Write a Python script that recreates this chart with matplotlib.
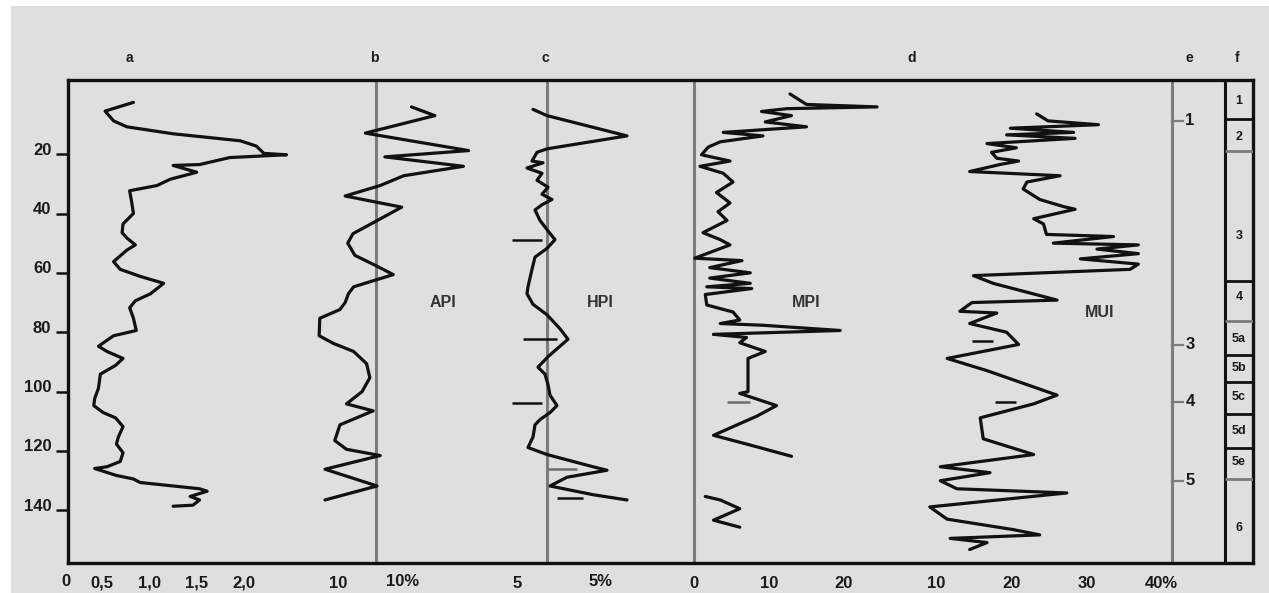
import numpy as np
import matplotlib
matplotlib.use("Agg")
import matplotlib.pyplot as plt
from matplotlib.patches import Rectangle
from matplotlib.transforms import ScaledTranslation

plt.rcParams['font.family'] = ['Liberation Sans', 'DejaVu Sans']
plt.rcParams['font.weight'] = 'bold'

# ------------------------------------------------------------------ data
depth_ticks = [20, 40, 60, 80, 100, 120, 140]

# a: grain-size curve
a_depth = [2.54, 5.48, 8.78, 10.78, 13.13, 15.49, 17.26, 19.73, 20.20, 21.14,
           23.50, 23.80, 26.09, 28.44, 30.56, 32.33, 35.86, 39.98, 43.51, 46.46,
           48.23, 50.58, 52.35, 56.23, 58.82, 61.18, 63.53, 67.06, 69.42, 71.78,
           75.31, 79.43, 81.20, 84.73, 86.50, 88.85, 91.21, 94.15, 98.86, 102.39,
           104.75, 107.10, 108.87, 111.82, 115.35, 117.70, 120.65, 123.59, 125.36,
           125.95, 128.30, 129.48, 130.66, 132.78, 133.60, 135.37, 136.55, 138.31,
           138.67]
a_val = [0.83, 0.53, 0.62, 0.76, 1.25, 1.96, 2.13, 2.21, 2.45, 1.85,
         1.53, 1.25, 1.50, 1.22, 1.08, 0.79, 0.81, 0.83, 0.72, 0.71,
         0.76, 0.85, 0.76, 0.62, 0.69, 0.90, 1.15, 1.01, 0.85, 0.79,
         0.83, 0.86, 0.62, 0.46, 0.55, 0.72, 0.64, 0.48, 0.46, 0.42,
         0.41, 0.51, 0.64, 0.72, 0.67, 0.65, 0.72, 0.69, 0.55,
         0.42, 0.65, 0.83, 0.90, 1.53, 1.61, 1.43, 1.53, 1.46,
         1.25]

# b: API (%)
api_depth = [4.07, 7.01, 12.90, 18.79, 20.91, 24.09, 27.27, 30.56, 34.10, 37.86,
             46.81, 49.99, 54.11, 57.65, 60.59, 64.71, 67.07, 70.01, 72.37, 75.31,
             81.20, 83.79, 86.50, 90.62, 95.33, 100.04, 104.16, 106.52, 111.23,
             116.53, 119.47, 121.59, 126.19, 131.84, 136.55]
api_val = [21.3, 24.9, 14.2, 30.1, 17.2, 29.3, 20.1, 16.5, 11.1, 19.8,
           12.3, 11.5, 12.6, 15.9, 18.5, 12.4, 11.6, 11.1, 10.3, 7.2,
           7.1, 9.3, 12.4, 14.4, 14.9, 13.7, 11.3, 15.4, 10.3,
           9.5, 11.3, 16.5, 8.0, 16.0, 8.0]

# c: HPI (%)
hpi_depth = [4.89, 7.01, 13.84, 18.20, 19.38, 22.32, 22.91, 24.67, 26.44, 28.80,
             31.15, 33.51, 35.27, 37.04, 38.81, 42.34, 45.87, 48.82, 51.76, 54.70,
             58.82, 64.71, 67.07, 70.60, 74.13, 78.84, 82.38, 84.73, 88.26, 91.80,
             94.15, 97.69, 101.22, 104.75, 107.10, 109.46, 111.23, 115.35, 118.88,
             121.24, 125.36, 126.54, 128.89, 131.84, 134.78, 136.55]
hpi_val = [6.6, 8.0, 16.0, 8.0, 7.0, 6.5, 7.6, 6.0, 7.5, 7.0,
           8.1, 7.5, 8.5, 7.5, 6.8, 7.3, 8.1, 8.8, 8.0, 6.8,
           6.5, 6.1, 6.0, 6.6, 8.0, 9.3, 10.1, 9.3, 8.1, 7.1,
           7.8, 8.1, 8.3, 9.0, 8.3, 7.3, 6.8, 6.6, 6.1,
           8.0, 12.6, 14.0, 10.0, 8.3, 12.6, 16.0]
hpi_mark_depth = [49.05, 82.14, 103.93, 135.96]
hpi_mark_from = [4.5, 5.6, 4.5, 9.0]
hpi_mark_to = [7.5, 9.0, 7.5, 11.6]
hpi_faint_depth = [125.95]
hpi_faint_from = [8.1]
hpi_faint_to = [11.0]

# d: MPI (%), two logged intervals
mpi_depth = [-0.29, 3.24, 4.07, 4.66, 5.60, 7.01, 9.13, 10.78, 12.66, 13.84,
             15.84, 17.61, 20.20, 22.32, 24.09, 26.44, 29.39, 32.92, 36.45, 39.39,
             42.34, 46.46, 48.82, 50.58, 55.06, 55.88, 58.24, 60.00, 61.77, 63.53,
             64.71, 65.30, 67.30, 70.84, 73.19, 75.90, 77.08, 77.67, 79.43, 80.73,
             81.79, 83.55, 86.50, 88.85, 95.33, 100.04, 100.63, 104.75, 108.28,
             114.76, 117.70, 121.83, np.nan,
             135.37, 136.55, 139.50, 143.37, 145.73]
mpi_val = [12.8, 15.0, 24.4, 12.4, 9.0, 13.0, 9.5, 15.0, 3.9, 9.2,
           3.5, 1.9, 1.0, 4.8, 0.8, 3.9, 5.2, 3.0, 4.8, 3.2,
           4.4, 1.2, 3.5, 4.8, 0.1, 6.4, 2.1, 7.5, 2.1, 7.5,
           1.7, 7.7, 1.5, 1.7, 5.2, 6.1, 3.5, 9.2, 19.5, 2.6,
           7.0, 6.1, 9.5, 7.2, 7.2, 7.2, 6.1, 11.0, 8.4,
           2.6, 7.0, 13.0, np.nan,
           1.5, 3.5, 6.1, 2.6, 6.1]
mpi_mark_depth = [80.7]
mpi_mark_from = [2.4]
mpi_mark_to = [5.9]
mpi_faint_depth = [103.6]
mpi_faint_from = [4.4]
mpi_faint_to = [7.5]

# d: MUI (%)
mui_depth = [6.42, 8.78, 10.07, 11.25, 12.66, 13.49, 14.67, 16.43, 17.85, 19.38,
             21.38, 22.32, 23.50, 25.85, 27.27, 29.39, 31.74, 35.27, 37.63, 38.57,
             41.75, 43.52, 47.05, 47.76, 49.99, 50.58, 51.99, 53.53, 55.29, 57.06,
             58.82, 60.94, 63.53, 69.19, 70.01, 72.96, 73.54, 77.08, 80.02, 84.14,
             88.85, 92.97, 101.22, 104.16, 108.87, 115.94, 121.24, 125.36, 127.36,
             130.07, 132.78, 134.19, 138.90, 143.02, 146.55, 148.32, 149.50,
             150.91, 153.26]
mui_val = [23.4, 24.9, 31.6, 19.9, 28.3, 19.4, 28.5, 16.8, 20.7, 17.4,
           18.1, 21.0, 18.5, 14.5, 26.5, 22.1, 21.6, 23.8, 26.9, 28.5,
           23.0, 24.3, 24.7, 33.6, 25.6, 36.9, 31.4, 36.9, 29.2, 36.9,
           35.8, 15.0, 17.6, 26.1, 14.8, 13.2, 18.1, 14.5, 19.4, 21.0,
           11.5, 16.8, 26.1, 23.0, 15.9, 16.3, 23.0, 10.6, 17.2,
           10.6, 12.8, 27.4, 9.2, 11.5, 20.3, 23.8, 11.9,
           16.8, 14.5]
mui_mark_depth = [83.0, 103.6]
mui_mark_from = [14.8, 17.9]
mui_mark_to = [17.6, 20.7]

# e: dated levels
e_depth = [8.8, 84.2, 103.4, 130.1]
e_labels = ["1", "3", "4", "5"]

# f: lithological units
f_bounds = [8.2, 18.8, 62.7, 76.1, 87.6, 96.7, 107.6, 119.0, 129.5]
f_bound_faint = [False, True, False, True, False, False, False, False, True]
f_labels = ["1", "2", "3", "4", "5a", "5b", "5c", "5d", "5e", "6"]
f_label_depth = [2.1, 14.3, 47.7, 68.3, 82.2, 92.2, 101.7, 113.4, 123.9, 146.1]

a_ticks = [0.5, 1.0, 1.5, 2.0]
a_ticklabels = ["0,5", "1,0", "1,5", "2,0"]
mpi_ticks = [0, 10, 20]
mpi_ticklabels = ["0", "10", "20"]
mui_ticks = [10, 20, 30, 40]
mui_ticklabels = ["10", "20", "30", "40%"]
api_ticks = [10]
api_ticklabels = ["10"]
hpi_ticks = [5]
hpi_ticklabels = ["5"]

# ------------------------------------------------------------------ layout (pixels)
W, H, DPI = 1269, 593, 100
FR_L, FR_R, FR_T, FR_B = 68, 1253, 80, 563
DEPTH_LIM = (157.8, -5.0)
LINE_B, LINE_C, LINE_D, LINE_E, F_L = 376, 547, 694, 1172, 1225
BG = "#dfdfdf"
GRID_GREY = "#7c7c7c"
INK = "#111111"

# each curve scale: (pixel of value 0, pixels per unit)
SCALES = {
    "a": (55.0, 94.5),
    "api": (273.0, 6.5),
    "hpi": (467.0, 10.0),
    "mpi": (694.0, 7.5),
    "mui": (860.5, 7.53),
}

fig = plt.figure(figsize=(W / DPI, H / DPI), dpi=DPI, facecolor="white")
fig.patches.append(Rectangle((11 / W, 0), 1, 1 - 6 / H, transform=fig.transFigure,
                             facecolor=BG, edgecolor="none", zorder=-10))

rect = [FR_L / W, 1 - FR_B / H, (FR_R - FR_L) / W, (FR_B - FR_T) / H]

# frame axes: x in pixels, y in depth
fax = fig.add_axes(rect)
fax.set_facecolor("none")
fax.set_xlim(FR_L, FR_R)
fax.set_ylim(*DEPTH_LIM)
for s in fax.spines.values():
    s.set_linewidth(2.4)
    s.set_color(INK)
fax.set_xticks([])
fax.set_yticks(depth_ticks)
fax.set_yticklabels([str(t) for t in depth_ticks], fontsize=12, fontweight="bold",
                    color="#1a1a1a")
fax.tick_params(axis="y", length=9, width=1.8, pad=3, color=INK)
for lab in fax.get_yticklabels():
    lab.set_transform(lab.get_transform() + ScaledTranslation(0, 4 / 72, fig.dpi_scale_trans))

for xl in (LINE_B, LINE_C, LINE_D, LINE_E):
    fax.axvline(xl, color=GRID_GREY, lw=2.2, zorder=1)
fax.axvline(F_L, color=INK, lw=2.2, zorder=3)

# e column: dated levels
for d, lab in zip(e_depth, e_labels):
    fax.plot([LINE_E, LINE_E + 11], [d, d], color=GRID_GREY, lw=1.6, zorder=2)
    fax.text(LINE_E + 18, d, lab, fontsize=12, fontweight="bold", color="#1a1a1a",
             ha="center", va="center")

# f column: units
for d, faint in zip(f_bounds, f_bound_faint):
    fax.plot([F_L, FR_R], [d, d], color=GRID_GREY if faint else INK,
             lw=2.0, solid_capstyle="butt", zorder=3)
for d, lab in zip(f_label_depth, f_labels):
    fax.text((F_L + FR_R) / 2, d, lab, fontsize=9, fontweight="bold", color="#1a1a1a",
             ha="center", va="center")

# panel names
for x, d, name in [(443, 70.0, "API"), (600, 70.0, "HPI"), (806, 70.0, "MPI"),
                   (1100, 73.5, "MUI")]:
    fax.text(x, d, name, fontsize=11.5, fontweight="bold", color="#333333",
             ha="center", va="center")

# column letters
for x, lab in [(129, "a"), (374, "b"), (545, "c"), (912, "d"), (1189, "e"), (1237, "f")]:
    fig.text(x / W, 1 - 58 / H, lab, fontsize=10, fontweight="bold", color="#1a1a1a",
             ha="center", va="center")


def scale_axes(key):
    x0, k = SCALES[key]
    ax = fig.add_axes(rect, sharey=fax)
    ax.set_facecolor("none")
    for s in ax.spines.values():
        s.set_visible(False)
    ax.set_xlim((FR_L - x0) / k, (FR_R - x0) / k)
    ax.tick_params(axis="y", left=False, labelleft=False)
    ax.tick_params(axis="x", length=0, pad=9, labelsize=12, labelcolor="#1a1a1a")
    return ax


line_kw = dict(color=INK, lw=2.3, solid_joinstyle="round", solid_capstyle="round",
               zorder=4)
mark_kw = dict(color=INK, lw=1.8, zorder=4)
faint_kw = dict(color="#6e6e6e", lw=1.8, zorder=4)

ax_a = scale_axes("a")
ax_a.plot(a_val, a_depth, **line_kw)
ax_a.set_xticks(a_ticks)
ax_a.set_xticklabels(a_ticklabels, fontweight="bold")

ax_b = scale_axes("api")
ax_b.plot(api_val, api_depth, **line_kw)
ax_b.set_xticks(api_ticks)
ax_b.set_xticklabels(api_ticklabels, fontweight="bold")

ax_c = scale_axes("hpi")
ax_c.plot(hpi_val, hpi_depth, **line_kw)
ax_c.hlines(hpi_mark_depth, hpi_mark_from, hpi_mark_to, **mark_kw)
ax_c.hlines(hpi_faint_depth, hpi_faint_from, hpi_faint_to, **faint_kw)
ax_c.set_xticks(hpi_ticks)
ax_c.set_xticklabels(hpi_ticklabels, fontweight="bold")

ax_d = scale_axes("mpi")
ax_d.plot(mpi_val, mpi_depth, **line_kw)
ax_d.hlines(mpi_mark_depth, mpi_mark_from, mpi_mark_to, **mark_kw)
ax_d.hlines(mpi_faint_depth, mpi_faint_from, mpi_faint_to, **faint_kw)
ax_d.set_xticks(mpi_ticks)
ax_d.set_xticklabels(mpi_ticklabels, fontweight="bold")

ax_u = scale_axes("mui")
ax_u.plot(mui_val, mui_depth, **line_kw)
ax_u.hlines(mui_mark_depth, mui_mark_from, mui_mark_to, **mark_kw)
ax_u.set_xticks(mui_ticks)
ax_u.set_xticklabels(mui_ticklabels, fontweight="bold")

# extra scale captions beside the tick labels
label_y = 1 - 582 / H
for x, lab in [(66, "0"), (403, "10%"), (601, "5%")]:
    fig.text(x / W, label_y, lab, fontsize=12, fontweight="bold", color="#1a1a1a",
             ha="center", va="center")

fig.savefig("out.png", dpi=DPI, facecolor=fig.get_facecolor())
